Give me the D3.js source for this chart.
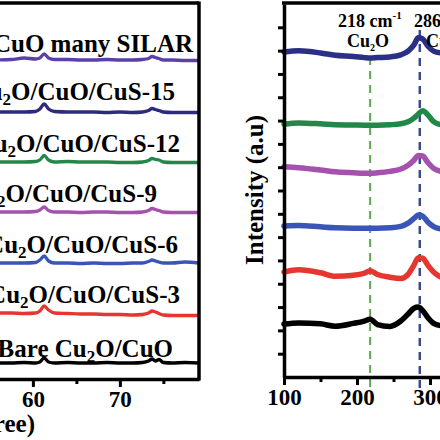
<!DOCTYPE html>
<html><head><meta charset="utf-8">
<script src="https://cdn.jsdelivr.net/npm/d3@7/dist/d3.min.js"></script>
<style>
html,body{margin:0;padding:0;background:#fff;overflow:hidden}
text{font-family:"Liberation Serif","Times New Roman",serif;font-weight:bold;fill:#000}
</style></head>
<body>
<svg id="c" width="440" height="440"></svg>
<script>
// ---------- XRD panel (left) ----------
const theta = [55, 57.5, 59, 60.3, 60.8, 61.3, 61.8, 62.5, 64, 65.5, 67, 68.5, 70, 71.5, 72.6, 73.3, 73.7, 74.1, 74.5, 75, 76, 77.5, 79];
const xrdNames = ["Bare Cu_2O/CuO", "Cu_2O/CuO/CuS-3", "Cu_2O/CuO/CuS-6", "Cu_2O/CuO/CuS-9", "Cu_2O/CuO/CuS-12", "Cu_2O/CuO/CuS-15", "Cu_2O/CuO many SILAR"];
const xrdBare  = [16,16,16.5,16,17,21,17,16,16.5,16,16,16.5,16,16,16.5,18,20,18,19.5,16.5,16,16.5,16];
const xrdCuS3  = [66,66,65.5,66,68,73,69,66,65.5,65,65,64.5,64.5,64,64.5,66,68,67,65.5,64,63.5,63.5,63.5];
const xrdCuS6  = [116,116,116,116.5,119,123,118,116,116,115.5,116,115.5,115.5,116,116,117.5,119,118,117,116,116,117,116];
const xrdCuS9  = [167,167,167,167.5,169,172,168.5,167,167,166.5,167,167,166.5,166.5,167,168.5,170.5,169.5,168.5,167,166.5,166.5,166.5];
const xrdCuS12 = [217,217,217,217.5,219,223.5,219,217,217.5,217,217,217,216.5,216.5,217,218.5,220.5,219.5,219,217,216.5,216.5,216.5];
const xrdCuS15 = [267,267,267,267.5,270,275,270,267.5,267,267,267,266.5,267,266.5,267,268.5,270.5,269.5,268.5,267,266.5,266.5,266.5];
const xrdMany  = [319,319.5,321,320,321,325,321,319.5,319.5,319,319,319.5,319,319,319.5,320.5,322.5,321.5,320.5,319,319,318.5,318.5];
const xrdMajorTicks = [30, 40, 50, 60, 70];
const xrdMinorTicks = [35, 45, 55, 65, 75];

// ---------- Raman panel (right) ----------
const shift = [100,120,150,170,195,210,218,228,245,260,270,278,284,290,297,305,315];
const ramBare  = [2.27,2.32,2.28,2.18,2.3,2.4,2.48,2.25,2.17,2.4,2.7,2.95,3.0,2.85,2.55,2.3,2.2];
const ramCuS3  = [4.5,4.6,4.47,4.32,4.36,4.45,4.56,4.4,4.28,4.22,4.4,4.8,5.12,5.1,4.8,4.5,4.28];
const ramCuS6  = [6.48,6.5,6.44,6.4,6.38,6.38,6.38,6.38,6.4,6.46,6.6,6.8,6.95,6.9,6.65,6.45,6.35];
const ramCuS9  = [9.02,8.98,8.88,8.8,8.76,8.74,8.74,8.76,8.82,8.92,9.08,9.3,9.5,9.48,9.2,8.95,8.82];
const ramCuS12 = [10.85,10.9,10.86,10.82,10.81,10.8,10.8,10.8,10.82,10.86,10.95,11.1,11.28,11.42,11.25,10.95,10.82];
const ramCuS15 = [13.94,13.99,13.9,13.8,13.75,13.7,13.68,13.7,13.73,13.82,13.98,14.25,14.55,14.5,14.2,13.98,13.9];
const ramanMajorTicks = [100, 200, 300];
const ramanMinorTicks = [150, 250];
const ramanYTicks = [1,2,3,4,5,6,7,8,9,10,11,12,13,14,15];

const colors = ["#000000", "#e5372f", "#3a56b4", "#a452ad", "#22884a", "#2e2b7c", "#5b40a8"];

const svg = d3.select("#c");

// scales
const xL = d3.scaleLinear().domain([20, 79.1]).range([-315, 199]);
const yL = d3.scaleLinear().domain([0, 377]).range([379, 2]);
const xR = d3.scaleLinear().domain([100, 400]).range([284, 503]);
const yR = d3.scaleLinear().domain([0, 16]).range([377, 4]);

function richText(sel, str, subSize, subDy) {
  const parts = str.split(/_(\d)/);
  parts.forEach((p, i) => {
    if (i % 2 === 1) {
      sel.append("tspan").attr("font-size", subSize).attr("dy", subDy).text(p);
    } else if (p.length) {
      sel.append("tspan").attr("dy", i > 0 ? -subDy : 0).text(p);
    }
  });
}

// ---- left panel ----
const gl = svg.append("g");
const xrdSeries = [xrdBare, xrdCuS3, xrdCuS6, xrdCuS9, xrdCuS12, xrdCuS15, xrdMany];
const lineL = d3.line().x((d, i) => xL(theta[i])).y(d => yL(d)).curve(d3.curveMonotoneX);
xrdSeries.forEach((s, k) => {
  gl.append("path").attr("d", lineL(s)).attr("fill", "none")
    .attr("stroke", colors[k]).attr("stroke-width", 3.3).attr("stroke-linejoin", "round");
});
// labels (right-aligned, above each curve)
const labelEnd = [173, 180, 178, 157, 180, 175, 193];
const labelBase = [357, 303, 253, 202, 152, 100, 52];
xrdNames.forEach((n, k) => {
  const t = gl.append("text").attr("x", labelEnd[k]).attr("y", labelBase[k])
    .attr("text-anchor", "end").attr("font-size", 25);
  richText(t, n, 17, 5);
});
// frame
gl.append("line").attr("x1", -10).attr("x2", xL(79.1)).attr("y1", 3).attr("y2", 3)
  .attr("stroke", "#000").attr("stroke-width", 3.5);
gl.append("line").attr("x1", xL(79.1)).attr("x2", xL(79.1)).attr("y1", 1.5).attr("y2", 380.5)
  .attr("stroke", "#000").attr("stroke-width", 3.5);
// x axis
const axL = gl.append("g").attr("transform", "translate(0,379)")
  .call(d3.axisBottom(xL).tickValues(xrdMajorTicks).tickSize(8).tickSizeOuter(0).tickFormat(d3.format("d")));
axL.select(".domain").attr("stroke-width", 3.5);
axL.selectAll(".tick line").attr("stroke-width", 3);
axL.selectAll(".tick text").attr("font-size", 23).attr("font-family", "Liberation Serif").attr("font-weight", "bold").attr("y", 12).attr("dy", "0.71em");
const axL2 = gl.append("g").attr("transform", "translate(0,379)")
  .call(d3.axisBottom(xL).tickValues(xrdMinorTicks).tickSize(5).tickFormat(""));
axL2.select(".domain").remove();
axL2.selectAll(".tick line").attr("stroke-width", 3);
gl.append("text").attr("x", 35).attr("y", 432).attr("text-anchor", "end").attr("font-size", 25)
  .text("2θ (degree)");

// ---- right panel ----
const gr = svg.append("g");
// reference dashed lines
gr.append("line").attr("x1", xR(218)).attr("x2", xR(218)).attr("y1", 57).attr("y2", 393)
  .attr("stroke", "#5aab4c").attr("stroke-width", 2).attr("stroke-dasharray", "8,6");
gr.append("line").attr("x1", xR(286)).attr("x2", xR(286)).attr("y1", 30).attr("y2", 393)
  .attr("stroke", "#3b4a8c").attr("stroke-width", 2.5).attr("stroke-dasharray", "8,6");

const ramSeries = [ramBare, ramCuS3, ramCuS6, ramCuS9, ramCuS12, ramCuS15];
const ramColors = ["#000000", "#e5372f", "#3a56b4", "#a452ad", "#22884a", "#2b2f86"];
const lineR = d3.line().x((d, i) => xR(shift[i])).y(d => yR(d)).curve(d3.curveMonotoneX);
ramSeries.forEach((s, k) => {
  gr.append("path").attr("d", lineR(s)).attr("fill", "none")
    .attr("stroke", ramColors[k]).attr("stroke-width", 5.5).attr("stroke-linejoin", "round").attr("stroke-linecap", "round");
});
// frame top
gr.append("line").attr("x1", 282).attr("x2", 445).attr("y1", 3).attr("y2", 3)
  .attr("stroke", "#000").attr("stroke-width", 3.5);
// x axis
const axR = gr.append("g").attr("transform", "translate(0,377)")
  .call(d3.axisBottom(xR).tickValues(ramanMajorTicks).tickSize(8).tickSizeOuter(0).tickFormat(d3.format("d")));
axR.select(".domain").attr("stroke-width", 3.5);
axR.selectAll(".tick line").attr("stroke-width", 3);
axR.selectAll(".tick text").attr("font-size", 23).attr("font-family", "Liberation Serif").attr("font-weight", "bold").attr("y", 12).attr("dy", "0.71em");
const axR2 = gr.append("g").attr("transform", "translate(0,377)")
  .call(d3.axisBottom(xR).tickValues(ramanMinorTicks).tickSize(5).tickFormat(""));
axR2.select(".domain").remove();
axR2.selectAll(".tick line").attr("stroke-width", 3);
// y axis
const ayR = gr.append("g").attr("transform", "translate(284,0)")
  .call(d3.axisLeft(yR).tickValues(ramanYTicks).tickSize(6).tickSizeOuter(0).tickFormat(""));
ayR.select(".domain").attr("stroke-width", 3.5);
ayR.selectAll(".tick line").attr("stroke-width", 3);
gr.append("text").attr("transform", "translate(263,190) rotate(-90)").attr("text-anchor", "middle")
  .attr("font-size", 25).text("Intensity (a.u)");

// peak annotations
const a1 = gr.append("text").attr("x", 338).attr("y", 27).attr("font-size", 18);
a1.append("tspan").text("218 cm");
a1.append("tspan").attr("font-size", 11).attr("dy", -8).text("-1");
const a2 = gr.append("text").attr("x", 347).attr("y", 47).attr("font-size", 18);
richText(a2, "Cu_2O", 10, 4);
const a3 = gr.append("text").attr("x", 414).attr("y", 27).attr("font-size", 18);
a3.append("tspan").text("286 cm");
a3.append("tspan").attr("font-size", 11).attr("dy", -8).text("-1");
gr.append("text").attr("x", 426).attr("y", 47).attr("font-size", 18).text("CuO");
</script>
</body></html>
